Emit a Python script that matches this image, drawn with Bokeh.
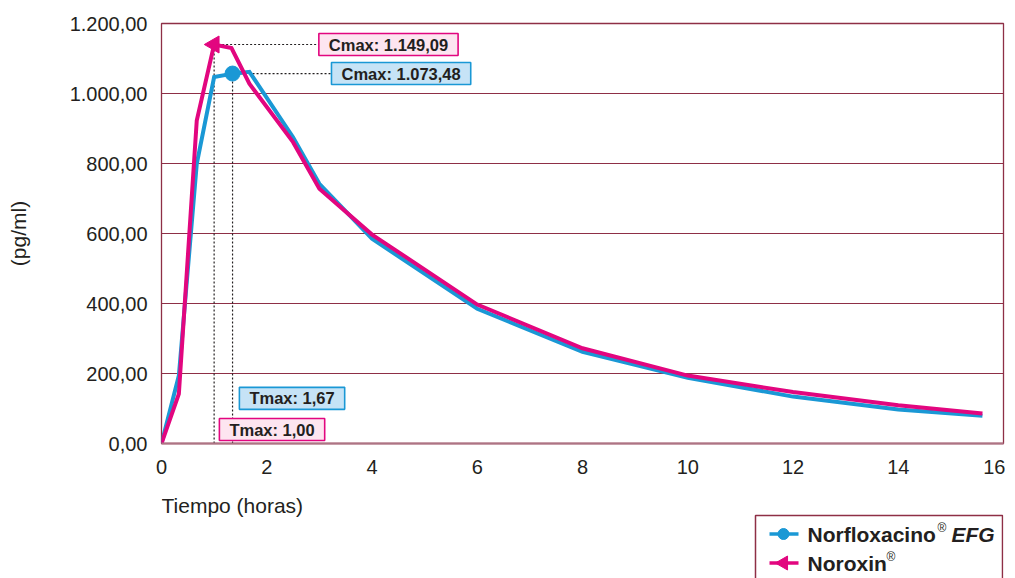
import math
from bokeh.plotting import figure
from bokeh.layouts import column
from bokeh.models import Range1d, FixedTicker, Label, ColumnDataSource
from bokeh.core.properties import value
from bokeh.embed import file_html
from bokeh.resources import INLINE

# ---------------- data ----------------
tiempo = [0, 0.33, 0.67, 1.0, 1.33, 1.67, 2.5, 3.0, 4.0, 6.0, 8.0, 10.0, 12.0, 14.0, 15.6]
norfloxacino = [0, 194, 799, 1047, 1056, 1062, 875, 742, 585, 385, 262, 188, 134, 97, 79]
noroxin = [0, 142, 923, 1140, 1130, 1028, 861, 728, 597, 397, 272, 194, 147, 109, 86]

norflox_marker_t = [1.35]
norflox_marker_c = [1057]
noroxin_marker_t = [1.0]
noroxin_marker_c = [1140]

cmax_labels = ["Cmax: 1.149,09", "Cmax: 1.073,48"]
tmax_labels = ["Tmax: 1,00", "Tmax: 1,67"]

series_names = ["Norfloxacino", "Noroxin"]
series_suffix = ["EFG", ""]

x_ticks = [0, 2, 4, 6, 8, 10, 12, 14, 16]
y_ticks = [0, 200, 400, 600, 800, 1000, 1200]
y_tick_labels = ["0,00", "200,00", "400,00", "600,00", "800,00", "1.000,00", "1.200,00"]

x_title = "Tiempo (horas)"
y_title = "(pg/ml)"

# ---------------- style ----------------
BLUE = "#1a98d5"
PINK = "#e2067f"
MAROON = "#8e2f46"
TXT = "#231f20"
FONT = "Liberation Sans"
W = 1005
FL, FR = 161, 1003   # frame left / right in page pixels

p = figure(width=W, height=485, output_backend="svg", toolbar_location=None,
           x_range=Range1d(0, 16), y_range=Range1d(0, 1200),
           min_border_left=FL, min_border_right=W - FR, min_border_top=23,
           min_border_bottom=42)
p.outline_line_color = MAROON
p.outline_line_width = 1.3
p.background_fill_color = "white"
p.border_fill_color = "white"

p.xgrid.grid_line_color = None
p.ygrid.ticker = FixedTicker(ticks=y_ticks[1:-1])
p.ygrid.grid_line_color = MAROON
p.ygrid.grid_line_width = 1.2

p.xaxis.ticker = FixedTicker(ticks=x_ticks)
p.yaxis.ticker = FixedTicker(ticks=y_ticks)
p.yaxis.major_label_overrides = {t: l for t, l in zip(y_ticks, y_tick_labels)}
for ax in (p.xaxis, p.yaxis):
    ax.major_tick_line_color = None
    ax.minor_tick_line_color = None
    ax.major_tick_out = 0
    ax.major_tick_in = 0
    ax.major_label_text_font = FONT
    ax.major_label_text_font_size = "20px"
    ax.major_label_text_color = TXT
p.yaxis.axis_line_color = None
p.yaxis.major_label_standoff = 14
p.yaxis.axis_label = y_title
p.yaxis.axis_label_text_font = FONT
p.yaxis.axis_label_text_font_size = "21px"
p.yaxis.axis_label_text_font_style = "normal"
p.yaxis.axis_label_text_color = TXT
p.yaxis.axis_label_standoff = 37
p.xaxis.axis_line_color = "#ad7484"
p.xaxis.axis_line_width = 2.2
p.xaxis.major_label_standoff = 16

# ---------------- guide lines (dotted) ----------------
pink_box_x = 2.99
blue_box_x = 3.23
p.segment(x0=noroxin_marker_t + noroxin_marker_t, y0=[0] + noroxin_marker_c,
          x1=noroxin_marker_t + [pink_box_x], y1=noroxin_marker_c + noroxin_marker_c,
          line_color=TXT, line_width=1.2, line_dash="2 2")
p.segment(x0=norflox_marker_t + norflox_marker_t, y0=[0] + norflox_marker_c,
          x1=norflox_marker_t + [blue_box_x], y1=norflox_marker_c + norflox_marker_c,
          line_color=TXT, line_width=1.2, line_dash="2 2")

# ---------------- series ----------------
src = ColumnDataSource(dict(t=tiempo, a=norfloxacino, b=noroxin))
p.line("t", "a", source=src, line_color=BLUE, line_width=4, line_join="miter")
p.line("t", "b", source=src, line_color=PINK, line_width=4, line_join="miter")
p.scatter(norflox_marker_t, norflox_marker_c, marker="circle", size=15,
          fill_color=BLUE, line_color=BLUE)
p.scatter(noroxin_marker_t, noroxin_marker_c, marker="triangle", size=17,
          angle=math.pi / 2, fill_color=PINK, line_color=PINK)

# ---------------- value boxes ----------------
def box(x, y, text, fill, border):
    p.add_layout(Label(x=x, y=y, text=text, text_font=FONT, text_font_style="bold",
                       text_font_size="16.5px", text_color=TXT, text_baseline="middle",
                       text_align="left", background_fill_color=fill,
                       border_line_color=border, border_line_width=1.6,
                       padding=dict(left=10, right=10, top=2, bottom=2)))

box(pink_box_x, noroxin_marker_c[0], cmax_labels[0], "#fde5f0", PINK)
box(blue_box_x, norflox_marker_c[0], cmax_labels[1], "#c6e3f6", BLUE)
box(1.48, 129, tmax_labels[1], "#c6e3f6", BLUE)
box(1.10, 40, tmax_labels[0], "#fde5f0", PINK)

# ---------------- lower strip: x title + legend (page-pixel coordinates) ----------------
H2 = 93
q = figure(width=W, height=H2, output_backend="svg", toolbar_location=None,
           x_range=Range1d(FL, FR), y_range=Range1d(H2, 0),
           x_axis_location=None, y_axis_location=None,
           min_border_left=FL, min_border_right=W - FR, min_border_top=0,
           min_border_bottom=0)
q.grid.visible = False
q.outline_line_color = None
q.background_fill_color = "white"
q.border_fill_color = "white"

q.text(x=[FL], y=[19.5], text=[x_title], text_font=value(FONT), text_font_size="21px",
       text_color=TXT, text_align="left", text_baseline="middle")

# legend frame (open at bottom, as in the cropped original)
q.multi_line(xs=[[755, 755, FR - 1, FR - 1]], ys=[[H2 + 5, 30, 30, H2 + 5]],
             line_color=MAROON, line_width=1.5)

row_y = [48.5, 77.5]
colors = [BLUE, PINK]
q.segment(x0=[769, 769], y0=row_y, x1=[798, 798], y1=row_y, line_color=colors,
          line_width=3.5)
q.scatter([783], [row_y[0]], marker="circle", size=11, fill_color=BLUE, line_color=BLUE)
q.scatter([783], [row_y[1]], marker="triangle", size=14, angle=math.pi / 2,
          fill_color=PINK, line_color=PINK)
q.text(x=[807, 807], y=row_y, text=series_names, text_font=value(FONT),
       text_font_style="bold", text_font_size="21px", text_color=TXT,
       text_align="left", text_baseline="middle")
q.text(x=[937, 886], y=[row_y[0] - 6, row_y[1] - 6], text=["®", "®"],
       text_font=value(FONT), text_font_size="12px", text_color=TXT,
       text_align="left", text_baseline="middle")
q.text(x=[951], y=[row_y[0]], text=[series_suffix[0]], text_font=value(FONT),
       text_font_style="bold italic", text_font_size="21px", text_color=TXT,
       text_align="left", text_baseline="middle")

layout = column(p, q, spacing=0)
open("out.html", "w").write(file_html(layout, INLINE))
